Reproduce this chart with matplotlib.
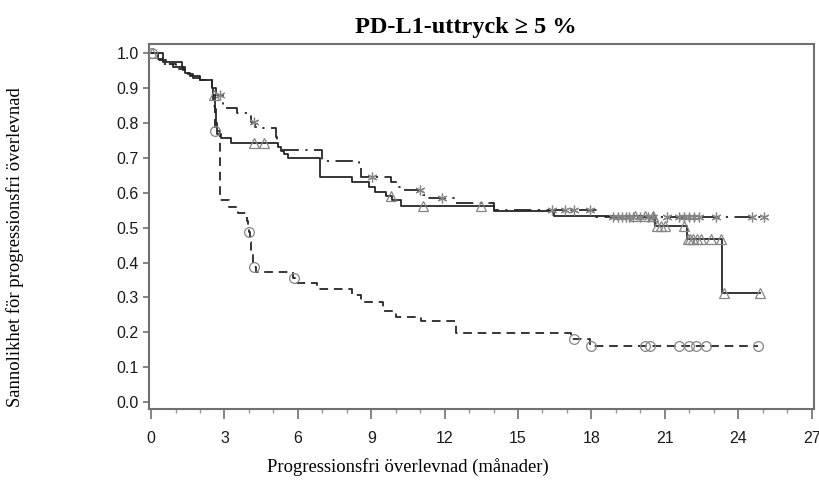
import matplotlib
matplotlib.use("Agg")
import matplotlib.pyplot as plt
import numpy as np

# Kaplan-Meier step curves: event times (months) and survival after each step
solid_t = [0, 0.5, 1.25, 1.4, 1.6, 2.0, 2.5, 2.55, 2.62, 2.66, 2.7, 2.85, 3.25,
           5.2, 5.3, 5.45, 5.6, 6.9, 8.2, 8.9, 9.15, 9.6, 9.85, 10.2, 14.0,
           16.45, 20.6, 21.9, 23.35, 24.9]
solid_s = [1.0, 0.976, 0.96, 0.945, 0.935, 0.925, 0.90, 0.88, 0.84, 0.80, 0.77,
           0.756, 0.742, 0.73, 0.72, 0.71, 0.70, 0.646, 0.632, 0.618, 0.603,
           0.59, 0.578, 0.563, 0.549, 0.534, 0.505, 0.467, 0.312, 0.312]
solid_cens = [0.05, 2.58, 4.19, 4.62, 9.8, 11.1, 13.5, 19.8, 20.2, 20.5, 20.7,
              20.85, 21.0, 21.8, 21.95, 22.05, 22.15, 22.3, 22.5, 22.9, 23.3,
              23.4, 24.9]

dashdot_t = [0, 0.3, 0.5, 0.9, 1.3, 1.5, 1.7, 2.0, 2.5, 2.65, 2.95, 3.5, 3.9,
             4.1, 4.25, 4.35, 5.1, 5.15, 5.2, 5.3, 7.0, 8.5, 8.6, 9.8, 10.1,
             10.25, 11.1, 11.35, 12.4, 14.0, 18.2, 25.05]
dashdot_s = [1.0, 0.985, 0.97, 0.96, 0.95, 0.94, 0.93, 0.925, 0.90, 0.88,
             0.842, 0.83, 0.82, 0.804, 0.79, 0.785, 0.76, 0.745, 0.733, 0.723,
             0.69, 0.67, 0.646, 0.632, 0.617, 0.608, 0.594, 0.586, 0.572,
             0.551, 0.53, 0.53]
dashdot_cens = [2.82, 4.19, 9.03, 11.0, 11.9, 16.4, 16.9, 17.3, 17.96, 18.9,
                19.1, 19.25, 19.4, 19.55, 19.7, 20.0, 20.3, 20.5, 21.1, 21.6,
                21.8, 22.0, 22.2, 22.4, 23.08, 24.58, 25.05]

dashed_t = [0, 0.3, 0.6, 1.0, 1.4, 1.7, 2.0, 2.5, 2.55, 2.6, 2.61, 2.83, 3.2,
            3.55, 3.9, 3.95, 4.0, 4.05, 4.1, 4.15, 4.18, 4.3, 5.8, 5.9, 6.8,
            8.2, 8.6, 9.5, 10.0, 11.05, 12.45, 17.15, 17.96, 24.8]
dashed_s = [1.0, 0.98, 0.97, 0.955, 0.94, 0.93, 0.925, 0.90, 0.85, 0.80,
            0.778, 0.58, 0.56, 0.542, 0.52, 0.50, 0.489, 0.46, 0.43, 0.40,
            0.387, 0.374, 0.355, 0.341, 0.324, 0.307, 0.288, 0.262, 0.245,
            0.231, 0.198, 0.18, 0.161, 0.161]
dashed_cens = [0.05, 2.62, 4.02, 4.2, 5.85, 17.28, 17.98, 20.2, 20.4, 21.58,
               21.98, 22.26, 22.67, 24.8]

x_ticks = np.arange(0, 28, 3)
y_ticks = np.round(np.arange(0, 1.01, 0.1), 1)

LINE = "#262626"
MARK = "#858585"
SPINE = "#707070"


def step_value(times, surv, at):
    idx = np.searchsorted(times, at, side="right") - 1
    return np.asarray(surv)[idx]


fig = plt.figure(figsize=(8.2, 4.8), dpi=100)
ax = fig.add_axes([0.1813, 0.148, 0.8114, 0.7597])

curves = [
    (solid_t, solid_s, solid_cens, "-", "^"),
    (dashdot_t, dashdot_s, dashdot_cens, (0, (9.6, 3.6, 1.2, 3.6)), (6, 2, 0)),
    (dashed_t, dashed_s, dashed_cens, (0, (4.8, 3.2)), "o"),
]
for t, s, cens, ls, mk in curves:
    ax.step(t, s, where="post", color=LINE, lw=1.3, linestyle=ls, zorder=3)
    ax.plot(cens, step_value(t, s, cens), linestyle="none", marker=mk,
            markersize=7, markerfacecolor="none", markeredgecolor=MARK,
            markeredgewidth=0.9, zorder=4)

ax.set_xlim(-0.1, 27.1)
ax.set_ylim(-0.02, 1.026)
ax.set_xticks(x_ticks)
ax.set_xticks(np.arange(0, 28, 1), minor=True)
ax.set_yticks(y_ticks)
ax.set_yticklabels([f"{v:.1f}" for v in y_ticks])

tick_font = ["Liberation Sans", "DejaVu Sans"]
for lab in ax.get_xticklabels() + ax.get_yticklabels():
    lab.set_family(tick_font)
    lab.set_fontsize(11.5)
    lab.set_color("#1a1a1a")

ax.tick_params(axis="x", which="major", direction="out", length=7, width=1.2,
               color=SPINE, pad=9)
ax.tick_params(axis="x", which="minor", direction="out", length=3, width=1.0,
               color="#999999")
ax.tick_params(axis="y", direction="out", length=4, width=1.2, color=SPINE, pad=3)

for sp in ax.spines.values():
    sp.set_color(SPINE)
    sp.set_linewidth(1.5)

serif = ["Liberation Serif", "DejaVu Serif"]
fig.text(466 / 820, 1 - 27 / 480, "PD-L1-uttryck \u2265 5 %", ha="center",
         va="center", fontsize=17.5, fontweight="bold", family=serif)
fig.text(408 / 820, 1 - 467 / 480, "Progressionsfri överlevnad (månader)",
         ha="center", va="center", fontsize=13.4, family=serif)
fig.text(15 / 820, 1 - 247 / 480, "Sannolikhet för progressionsfri överlevnad",
         ha="center", va="center", rotation=90, fontsize=13.4, family=serif)

fig.savefig("out.png", dpi=100, facecolor="white")
